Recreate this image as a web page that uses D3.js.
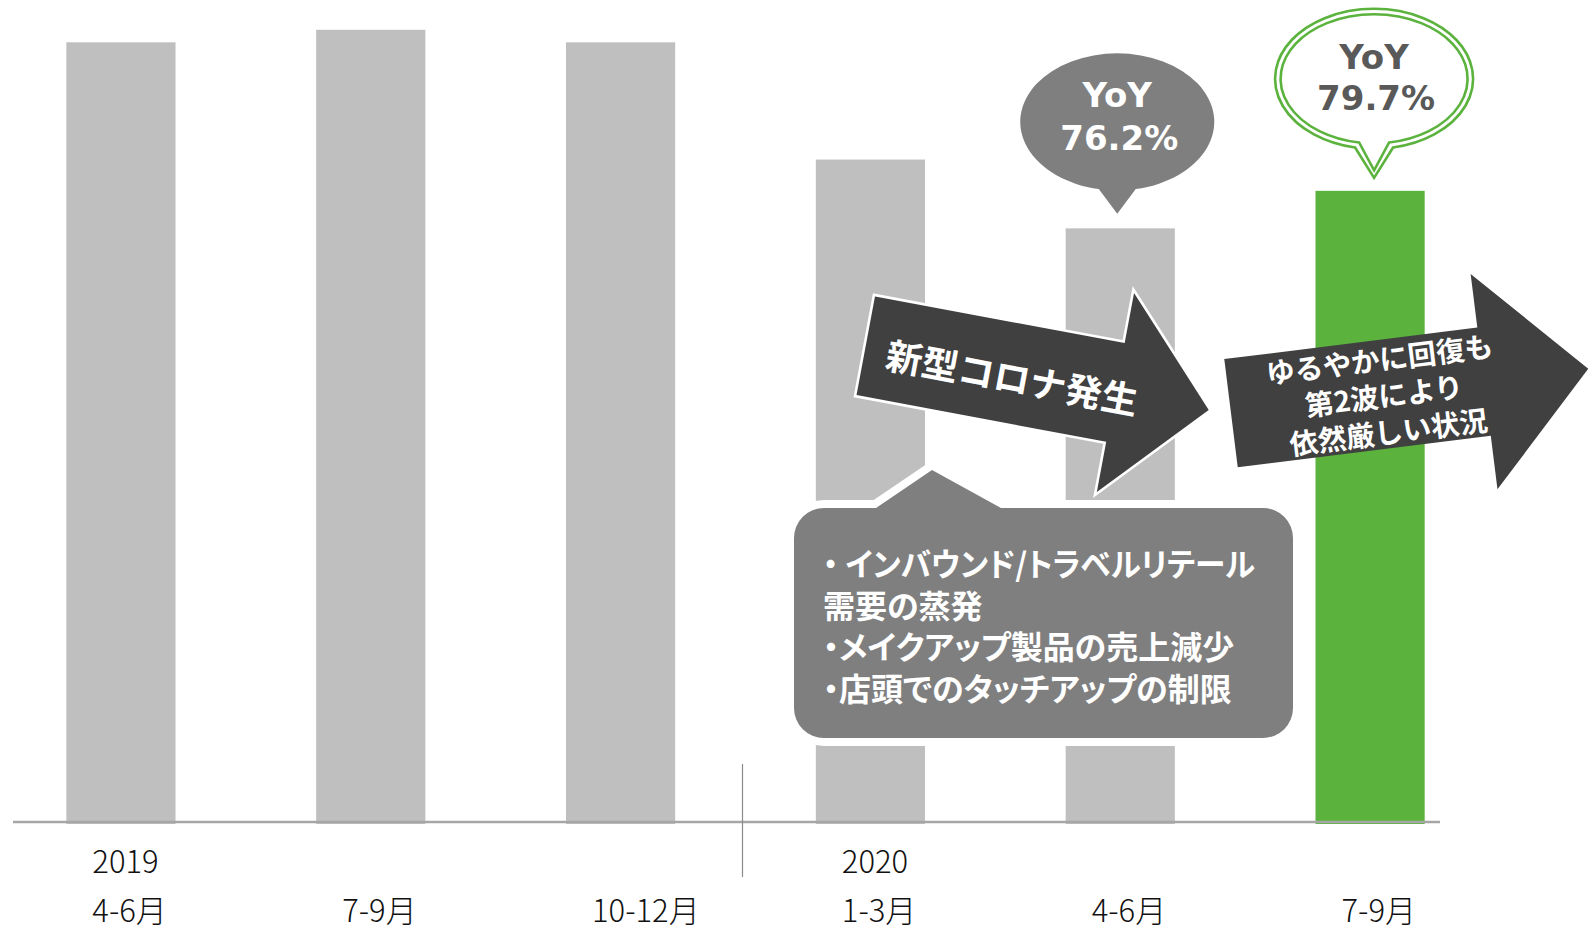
<!DOCTYPE html>
<html lang="ja">
<head>
<meta charset="utf-8">
<script src="https://cdn.jsdelivr.net/npm/d3@7"></script>
<style>
  html, body { margin: 0; padding: 0; background: #ffffff; }
  svg { display: block; }
</style>
</head>
<body>
<svg id="chart" width="1589" height="932"></svg>
<script>
// ---- data ----
const quarterLabels = ["4-6月", "7-9月", "10-12月", "1-3月", "4-6月", "7-9月"];
const yearLabels = ["2019", "", "", "2020", "", ""];
const sales = [1000, 1016, 1000, 850, 762, 810];
const highlightIndex = 5;
const yoyIndices = [4, 5];           // quarters compared with the same quarter a year earlier
const calloutLines = [
  "・ インバウンド/トラベルリテール",
  "需要の蒸発",
  "・メイクアップ製品の売上減少",
  "・店頭でのタッチアップの制限"
];
const arrow1Lines = ["新型コロナ発生"];
const arrow2Lines = ["ゆるやかに回復も", "第2波により", "依然厳しい状況"];

// ---- layout ----
const baseY = 824;
const svg = d3.select("#chart");
const jp = "'Noto Sans CJK JP', 'Noto Sans', sans-serif";

const x = d3.scaleBand()
  .domain(d3.range(sales.length))
  .range([-4, 1495])
  .paddingInner(0.563)
  .paddingOuter(0.2815);

const y = d3.scaleLinear()
  .domain([0, 1000])
  .range([baseY, 42.3]);

// ---- bars ----
svg.append("g").selectAll("rect")
  .data(sales)
  .join("rect")
  .attr("x", (d, i) => x(i))
  .attr("y", d => y(d))
  .attr("width", x.bandwidth())
  .attr("height", d => y(0) - y(d))
  .attr("fill", (d, i) => i === highlightIndex ? "#5bb33e" : "#bfbfbf");

// baseline
svg.append("line")
  .attr("x1", 13).attr("x2", 1440)
  .attr("y1", 822).attr("y2", 822)
  .attr("stroke", "#a6a6a6").attr("stroke-width", 2.6);

// year separator
svg.append("line")
  .attr("x1", 742.5).attr("x2", 742.5)
  .attr("y1", 764).attr("y2", 877)
  .attr("stroke", "#8a8a8a").attr("stroke-width", 1.2);

// ---- category labels ----
const labels = svg.append("g")
  .attr("font-family", jp)
  .attr("font-weight", 300)
  .attr("font-size", 31)
  .attr("fill", "#111111");

labels.selectAll("text.year")
  .data(yearLabels.map((t, i) => ({ t, i })).filter(d => d.t))
  .join("text")
  .attr("class", "year")
  .attr("x", d => x(d.i) + 26)
  .attr("y", 872.5)
  .text(d => d.t);

labels.selectAll("text.quarter")
  .data(quarterLabels)
  .join("text")
  .attr("class", "quarter")
  .attr("x", (d, i) => x(i) + 26)
  .attr("y", 922)
  .text(d => d);

// ---- callout box ----
function calloutPath(x0, y0, x1, y1, r, pl, px, py, pr) {
  return `M${x0 + r},${y0} L${pl},${y0} L${px},${py} L${pr},${y0} L${x1 - r},${y0}` +
    ` A${r},${r} 0 0 1 ${x1},${y0 + r} L${x1},${y1 - r}` +
    ` A${r},${r} 0 0 1 ${x1 - r},${y1} L${x0 + r},${y1}` +
    ` A${r},${r} 0 0 1 ${x0},${y1 - r} L${x0},${y0 + r}` +
    ` A${r},${r} 0 0 1 ${x0 + r},${y0} Z`;
}

svg.append("path")
  .attr("d", calloutPath(794, 508, 1293, 738, 30, 876, 932, 470, 1001))
  .attr("fill", "#7f7f7f")
  .attr("stroke", "#ffffff")
  .attr("stroke-width", 16)
  .attr("stroke-linejoin", "miter")
  .attr("paint-order", "stroke");

svg.append("g")
  .attr("font-family", jp)
  .attr("font-weight", 700)
  .attr("font-size", 32)
  .attr("fill", "#ffffff")
  .style("font-feature-settings", "'palt'")
  .selectAll("text")
  .data(calloutLines)
  .join("text")
  .attr("x", 823)
  .attr("y", (d, i) => 562 + i * 41.7)
  .attr("dominant-baseline", "central")
  .attr("textLength", (d, i) => i === 0 ? 432 : null)
  .attr("lengthAdjust", "spacingAndGlyphs")
  .text(d => d);

// ---- block arrows ----
function arrowPath(shaftLen, shaftHalf, headHalf, tip) {
  return `M0,${-shaftHalf} L${shaftLen},${-shaftHalf} L${shaftLen},${-headHalf} L${tip},0` +
    ` L${shaftLen},${headHalf} L${shaftLen},${shaftHalf} L0,${shaftHalf} Z`;
}

function drawArrow(cfg) {
  const g = svg.append("g")
    .attr("transform", `translate(${cfg.ox},${cfg.oy}) rotate(${cfg.angle})`);
  g.append("path")
    .attr("d", arrowPath(cfg.shaftLen, cfg.shaftHalf, cfg.headHalf, cfg.tip))
    .attr("fill", "#404040")
    .attr("stroke", cfg.outline ? "#ffffff" : "none")
    .attr("stroke-width", cfg.outline ? 2.6 : 0)
    .attr("stroke-linejoin", "miter");
  const mid = (cfg.lines.length - 1) / 2;
  g.selectAll("text")
    .data(cfg.lines)
    .join("text")
    .attr("x", cfg.textX)
    .attr("y", (d, i) => cfg.textY + (i - mid) * cfg.lineGap)
    .attr("text-anchor", "middle")
    .attr("dominant-baseline", "central")
    .attr("font-family", jp)
    .attr("font-weight", 700)
    .attr("font-size", cfg.fontSize)
    .attr("fill", "#ffffff")
    .text(d => d);
}

drawArrow({
  ox: 864.5, oy: 345.5, angle: 10.6,
  shaftLen: 254, shaftHalf: 51.5, headHalf: 104.5, tip: 352,
  outline: true,
  lines: arrow1Lines, textX: 151, textY: 3, lineGap: 0, fontSize: 36.5
});

drawArrow({
  ox: 1231, oy: 413.2, angle: -7.1,
  shaftLen: 255, shaftHalf: 54.5, headHalf: 108.5, tip: 360,
  outline: false,
  lines: arrow2Lines, textX: 154, textY: 0, lineGap: 36.6, fontSize: 28.5
});

// ---- YoY speech bubbles ----
function bubblePath(cx, cy, rx, ry, tx, ty, hw) {
  const yAt = dx => cy + ry * Math.sqrt(1 - (dx / rx) * (dx / rx));
  const xl = tx - hw, xr = tx + hw;
  return `M${tx},${ty} L${xr},${yAt(xr - cx)} A${rx},${ry} 0 1 0 ${xl},${yAt(xl - cx)} Z`;
}

const yoyFmt = d3.format(".1%");
const bubbleStyles = {
  4: { dx: -3, tipGap: 14.5, cyOff: 92, rx: 97, ry: 68.5, hw: 18.5, line1: -107, line2: -64, fill: "#7f7f7f", text: "#ffffff", outline: false },
  5: { dx: 4, tipGap: 13, cyOff: 99, rx: 99, ry: 70, hw: 19, line1: -109, line2: -67.5, fill: "#ffffff", text: "#595959", outline: true }
};

yoyIndices.forEach(i => {
  const s = bubbleStyles[i];
  const ratio = sales[i] / sales[i - 4];
  const tx = x(i) + x.bandwidth() / 2 + s.dx;
  const ty = y(sales[i]) - s.tipGap;
  const cx = tx, cy = ty - s.cyOff;
  const g = svg.append("g");
  g.append("path")
    .attr("d", bubblePath(cx, cy, s.rx, s.ry, tx, ty, s.hw))
    .attr("fill", s.fill)
    .attr("stroke", s.outline ? "#5bb33e" : "none")
    .attr("stroke-width", 2.6)
    .attr("stroke-linejoin", "miter");
  if (s.outline) {
    g.append("path")
      .attr("d", bubblePath(cx, cy, s.rx - 5.5, s.ry - 5.5, tx, ty - 7.5, s.hw - 4))
      .attr("fill", "none")
      .attr("stroke", "#5bb33e")
      .attr("stroke-width", 2.6)
      .attr("stroke-linejoin", "miter");
  }
  const t = g.append("g")
    .attr("font-family", "'DejaVu Sans', sans-serif")
    .attr("font-weight", 700)
    .attr("font-size", 34)
    .attr("fill", s.text)
    .attr("text-anchor", "middle");
  t.append("text").attr("x", cx).attr("y", ty + s.line1).text("YoY");
  t.append("text").attr("x", cx + 2).attr("y", ty + s.line2).text(yoyFmt(ratio));
});
</script>
</body>
</html>
